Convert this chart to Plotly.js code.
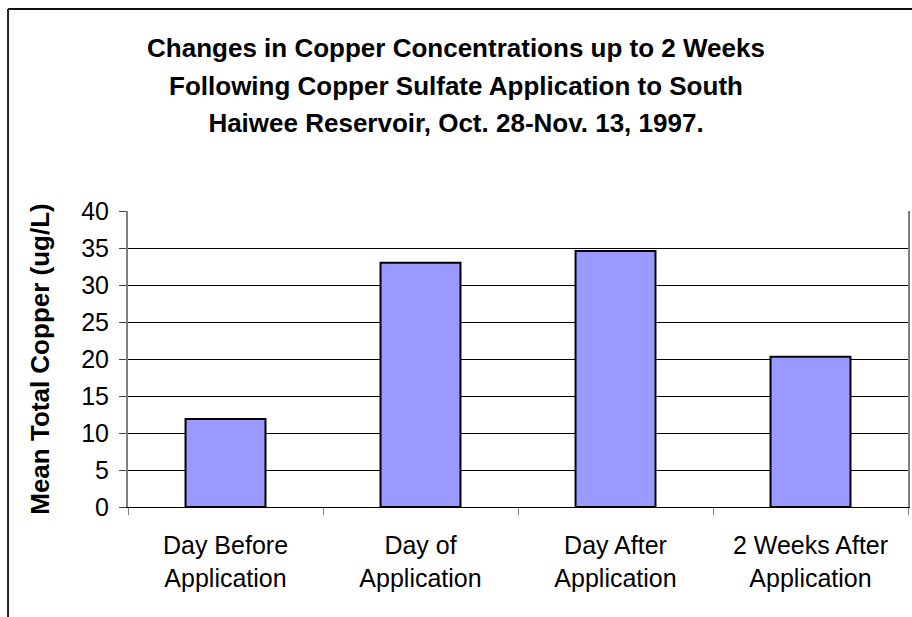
<!DOCTYPE html>
<html>
<head>
<meta charset="utf-8">
<script src="https://cdn.plot.ly/plotly-3.0.1.min.js"></script>
<style>
  html, body { margin: 0; padding: 0; background: #ffffff; }
  #chart { width: 912px; height: 617px; }
</style>
</head>
<body>
<div id="chart"></div>
<script>
const categories = ["Day Before<br>Application", "Day of<br>Application", "Day After<br>Application", "2 Weeks After<br>Application"];
const copperValues = [11.9, 33.0, 34.6, 20.3];
const yTickValues = [0, 5, 10, 15, 20, 25, 30, 35, 40];
const titleLines = ["Changes in Copper Concentrations up to 2 Weeks", "Following Copper Sulfate Application to South", "Haiwee Reservoir, Oct. 28-Nov. 13, 1997."];
const yAxisTitle = "Mean Total Copper (ug/L)";

const FONT = "Liberation Sans, Arial, sans-serif";

const trace = {
  type: "bar",
  x: categories,
  y: copperValues,
  width: 0.41,
  marker: { color: "#9999FF", line: { color: "#000000", width: 2 } },
  hoverinfo: "x+y"
};

const layout = {
  width: 912,
  height: 617,
  margin: { l: 128, r: 4, t: 211, b: 110 },
  paper_bgcolor: "#ffffff",
  plot_bgcolor: "#ffffff",
  showlegend: false,
  font: { family: FONT, color: "#000000" },
  title: {
    text: titleLines.map(s => '<span style="font-size:26px">' + s + '</span>').join("<br>"),
    font: { family: FONT, size: 29, color: "#000000", weight: "bold" },
    x: 0.5, xref: "container", xanchor: "center",
    y: 1 - 57 / 617, yref: "container", yanchor: "middle"
  },
  xaxis: {
    type: "category",
    range: [-0.5, 3.5],
    tickson: "boundaries",
    ticks: "outside",
    ticklen: 7,
    tickcolor: "#808080",
    tickwidth: 1,
    showgrid: false,
    showline: true,
    linecolor: "#000000",
    linewidth: 1,
    ticklabelstandoff: 16,
    tickfont: { family: FONT, size: 25, color: "#000000" },
    fixedrange: true
  },
  yaxis: {
    range: [0, 40],
    tickvals: yTickValues,
    ticks: "outside",
    ticklen: 7,
    tickcolor: "#404040",
    showgrid: true,
    gridcolor: "#000000",
    gridwidth: 1,
    zeroline: false,
    showline: true,
    mirror: true,
    linecolor: "#808080",
    linewidth: 2,
    ticklabelstandoff: 5,
    tickfont: { family: FONT, size: 25, color: "#000000" },
    title: { text: yAxisTitle, font: { family: FONT, size: 26, color: "#000000", weight: "bold" }, standoff: 24 },
    fixedrange: true
  },
  shapes: [
    { type: "line", xref: "paper", yref: "paper", x0: -0.1538, x1: -0.1538, y0: 1.6824, y1: -0.38, line: { color: "#222222", width: 2 } },
    { type: "line", xref: "paper", yref: "paper", x0: -0.1538, x1: 1.01, y0: 1.6824, y1: 1.6824, line: { color: "#111111", width: 2 } }
  ]
};

Plotly.newPlot("chart", [trace], layout, { displayModeBar: false, staticPlot: true });
</script>
</body>
</html>
